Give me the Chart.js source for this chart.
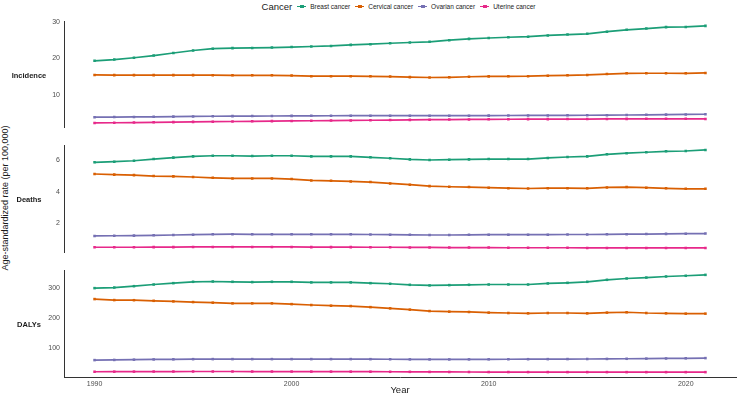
<!DOCTYPE html>
<html>
<head>
<meta charset="utf-8">
<script src="https://cdn.jsdelivr.net/npm/chart.js@4"></script>
<style>
  body { margin: 0; background: #fff; font-family: "Liberation Sans", Arial, sans-serif; }
  #wrap { position: relative; width: 740px; height: 396px; overflow: hidden; }
  .panel { position: absolute; left: 0; width: 740px; }
  .strip { position: absolute; width: 58px; left: 0; text-align: center; font-size: 7.5px; font-weight: bold; color: #1a1a1a; transform: translateY(-50%); }
  #ytitle { position: absolute; left: 5px; top: 198px; font-size: 9px; color: #1a1a1a; white-space: nowrap; transform: translate(-50%, -50%) rotate(-90deg); }
  #legend { position: absolute; left: 64px; width: 674px; top: 0; height: 13px; display: flex; justify-content: center; align-items: center; font-size: 6.5px; color: #1a1a1a; }
  #legend .ttl { font-size: 9.5px; margin-right: 5px; }
  #legend .key { position: relative; width: 9px; height: 8px; margin-right: 4px; }
  #legend .key i { position: absolute; left: 0; top: 3px; width: 9px; height: 1.5px; }
  #legend .key b { position: absolute; left: 3px; top: 2px; width: 3.5px; height: 3.5px; }
  #legend .item { display: flex; align-items: center; margin-right: 5px; }
</style>
</head>
<body>
<div id="wrap">
  <div id="legend"><span class="ttl">Cancer</span></div>
  <div id="ytitle">Age-standardized rate (per 100,000)</div>
  <div class="panel" style="top:11px;height:125px"><canvas id="cInc"></canvas></div>
  <div class="panel" style="top:135px;height:126px"><canvas id="cDeaths"></canvas></div>
  <div class="panel" style="top:260px;height:136px"><canvas id="cDalys"></canvas></div>
  <div class="strip" style="top:75px">Incidence</div>
  <div class="strip" style="top:199px">Deaths</div>
  <div class="strip" style="top:324px">DALYs</div>
</div>
<script>
const years = [];
for (let y = 1990; y <= 2021; y++) years.push(y);

const cancers = ['Breast cancer', 'Cervical cancer', 'Ovarian cancer', 'Uterine cancer'];
const colors = ['#1B9E77', '#D95F02', '#7570B3', '#E7298A'];

const xTicks = [1990, 2000, 2010, 2020];
const incidenceTicks = [10, 20, 30];
const deathsTicks = [2, 4, 6];
const dalysTicks = [100, 200, 300];

// Incidence
const incBreast = [19.35, 19.7, 20.2, 20.8, 21.5, 22.2, 22.7, 22.85, 22.9, 23.0, 23.15, 23.3, 23.45, 23.75, 23.95, 24.2,
    24.4, 24.6, 25.05, 25.4, 25.65, 25.85, 26.0, 26.35, 26.6, 26.8, 27.4, 27.9, 28.25, 28.65, 28.7, 29.0];
const incCervical = [15.45, 15.4, 15.4, 15.4, 15.4, 15.4, 15.38, 15.35, 15.35, 15.35, 15.27, 15.1, 15.1, 15.1, 15.08, 15.0,
    14.85, 14.75, 14.8, 14.95, 15.05, 15.08, 15.1, 15.25, 15.35, 15.45, 15.7, 15.9, 15.92, 15.92, 15.9, 16.0];
const incOvarian = [3.8, 3.82, 3.85, 3.9, 3.95, 4.0, 4.05, 4.08, 4.1, 4.12, 4.15, 4.17, 4.18, 4.2, 4.2, 4.2,
    4.2, 4.2, 4.2, 4.2, 4.22, 4.25, 4.27, 4.28, 4.3, 4.32, 4.35, 4.4, 4.45, 4.5, 4.55, 4.6];
const incUterine = [2.2, 2.25, 2.3, 2.37, 2.43, 2.5, 2.55, 2.6, 2.64, 2.7, 2.75, 2.8, 2.85, 2.9, 2.95, 3.0,
    3.05, 3.1, 3.13, 3.17, 3.2, 3.22, 3.25, 3.25, 3.27, 3.28, 3.3, 3.32, 3.35, 3.35, 3.33, 3.3];

// Deaths
const deathsBreast = [5.87, 5.91, 5.97, 6.08, 6.17, 6.25, 6.29, 6.29, 6.27, 6.29, 6.29, 6.25, 6.25, 6.25, 6.19, 6.13,
    6.06, 6.02, 6.04, 6.06, 6.08, 6.08, 6.08, 6.15, 6.21, 6.25, 6.38, 6.45, 6.51, 6.57, 6.59, 6.66];
const deathsCervical = [5.13, 5.09, 5.06, 5.0, 4.98, 4.94, 4.89, 4.85, 4.85, 4.85, 4.81, 4.72, 4.7, 4.66, 4.62, 4.53,
    4.45, 4.36, 4.32, 4.3, 4.26, 4.23, 4.21, 4.23, 4.23, 4.22, 4.28, 4.3, 4.26, 4.22, 4.19, 4.19];
const deathsOvarian = [1.2, 1.21, 1.22, 1.24, 1.26, 1.28, 1.3, 1.31, 1.3, 1.3, 1.3, 1.3, 1.3, 1.3, 1.29, 1.28,
    1.27, 1.26, 1.26, 1.27, 1.28, 1.28, 1.28, 1.28, 1.29, 1.29, 1.3, 1.31, 1.32, 1.33, 1.34, 1.35];
const deathsUterine = [0.48, 0.48, 0.48, 0.49, 0.49, 0.5, 0.5, 0.5, 0.5, 0.5, 0.5, 0.49, 0.49, 0.49, 0.48, 0.48,
    0.47, 0.47, 0.46, 0.46, 0.46, 0.45, 0.45, 0.45, 0.45, 0.44, 0.44, 0.44, 0.44, 0.44, 0.44, 0.44];

// DALYs
const dalysBreast = [300, 302, 306.5, 312, 316.5, 321, 322, 321, 320, 321, 321, 319, 319, 319, 316.5, 314.5,
    311, 309, 310, 311, 312, 312, 312, 315.5, 317.6, 321, 327.6, 332, 335, 338.6, 341, 344];
const dalysCervical = [263.7, 260.4, 260, 258, 256, 253.8, 251.7, 249.5, 249.5, 249.5, 247, 244, 241.7, 240.5, 237, 233,
    228.7, 224, 222, 221, 218.8, 217.5, 216.5, 217.5, 217.5, 216.5, 218.8, 220, 217.5, 216.5, 215.4, 215.4];
const dalysOvarian = [61.4, 62, 62.8, 63.6, 64, 64.5, 64.7, 64.7, 64.7, 64.7, 64.7, 64.7, 64.7, 64.7, 64.5, 64.2,
    63.8, 63.6, 63.6, 63.8, 64, 64.2, 64.4, 64.6, 64.8, 65, 65.3, 65.8, 66.3, 66.8, 67.4, 68];
const dalysUterine = [22.8, 23, 23.2, 23.4, 23.5, 23.6, 23.6, 23.6, 23.5, 23.5, 23.4, 23.3, 23.2, 23.1, 22.9, 22.7,
    22.5, 22.3, 22.1, 22, 21.8, 21.8, 21.7, 21.7, 21.6, 21.6, 21.6, 21.5, 21.5, 21.5, 21.5, 21.5];

const FONT = '"Liberation Sans", Arial, sans-serif';

// legend
const legend = document.getElementById('legend');
cancers.forEach((name, i) => {
    const item = document.createElement('span');
    item.className = 'item';
    item.innerHTML = '<span class="key"><i style="background:' + colors[i] + '"></i><b style="background:' + colors[i] + '"></b></span>' + name;
    legend.appendChild(item);
});

// ggplot-like 5% expansion
function expand(seriesList) {
    const all = [].concat(...seriesList);
    const lo = Math.min(...all), hi = Math.max(...all);
    const pad = (hi - lo) * 0.05;
    return [lo - pad, hi + pad];
}

function makePanel(canvasId, seriesList, yTicks, showX, padding) {
    const [ymin, ymax] = expand(seriesList);
    return new Chart(document.getElementById(canvasId), {
        type: 'line',
        data: {
            datasets: seriesList.map((vals, i) => ({
                label: cancers[i],
                data: vals.map((v, j) => ({ x: years[j], y: v })),
                borderColor: colors[i],
                backgroundColor: colors[i],
                borderWidth: 1.7,
                pointStyle: 'rect',
                pointRadius: 1.8,
                pointBorderWidth: 0,
                tension: 0
            }))
        },
        options: {
            responsive: true,
            maintainAspectRatio: false,
            animation: false,
            layout: { padding: padding },
            plugins: { legend: { display: false }, tooltip: { enabled: false } },
            scales: {
                x: {
                    type: 'linear',
                    min: 1988.45,
                    max: 2022.55,
                    display: showX,
                    afterBuildTicks: s => { s.ticks = xTicks.map(v => ({ value: v })); },
                    afterFit: s => { if (showX) s.height = 19; },
                    grid: { display: false, drawTicks: false },
                    border: { display: true, color: '#333', width: 1 },
                    ticks: {
                        font: { family: FONT, size: 7 },
                        color: '#4d4d4d',
                        padding: 3,
                        maxRotation: 0,
                        callback: v => String(v)
                    },
                    title: {
                        display: true,
                        text: 'Year',
                        font: { family: FONT, size: 9.5 },
                        color: '#1a1a1a',
                        padding: { top: 0, bottom: 0 }
                    }
                },
                y: {
                    min: ymin,
                    max: ymax,
                    afterBuildTicks: s => { s.ticks = yTicks.map(v => ({ value: v })); },
                    afterFit: s => { s.width = 64; },
                    grid: { display: false, drawTicks: false },
                    border: { display: true, color: '#333', width: 1 },
                    ticks: {
                        font: { family: FONT, size: 7 },
                        color: '#4d4d4d',
                        padding: 4,
                        callback: v => String(v)
                    }
                }
            }
        }
    });
}

makePanel('cInc', [incBreast, incCervical, incOvarian, incUterine], incidenceTicks, false,
    { top: 10, bottom: 8, left: 0, right: 2 });
makePanel('cDeaths', [deathsBreast, deathsCervical, deathsOvarian, deathsUterine], deathsTicks, false,
    { top: 10, bottom: 8, left: 0, right: 2 });
makePanel('cDalys', [dalysBreast, dalysCervical, dalysOvarian, dalysUterine], dalysTicks, true,
    { top: 10, bottom: 0, left: 0, right: 2 });
</script>
</body>
</html>
